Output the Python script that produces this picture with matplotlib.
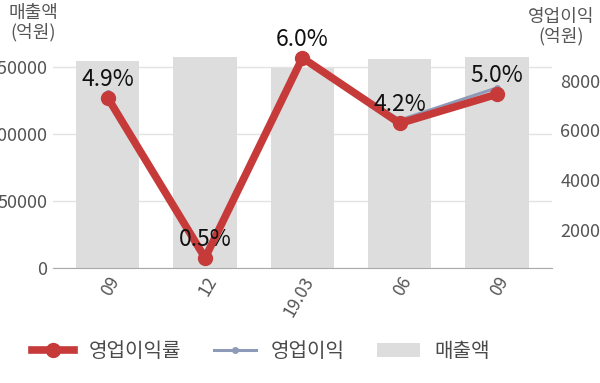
import numpy as np
import matplotlib
matplotlib.use("Agg")
import matplotlib.pyplot as plt

plt.rcParams['font.family'] = ['Noto Sans CJK KR', 'DejaVu Sans']

# data
periods = ['09', '12', '19.03', '06', '09']
sales = [154270, 157720, 149150, 156290, 157300]      # 매출액 (억원)
op_profit = [7490, 760, 8950, 6420, 7720]            # 영업이익 (억원)
op_margin = [4.9, 0.5, 6.0, 4.2, 5.0]                # 영업이익률 (%)

red = '#c63a3a'
blue = '#8e9bb8'
grey_bar = '#dddddd'
txt = '#555555'

fig = plt.figure(figsize=(6, 3.83), dpi=100)
ax = fig.add_axes([0.088, 0.300, 0.832, 0.585])
x = np.arange(len(periods))

bars = ax.bar(x, sales, width=0.65, color=grey_bar, label='매출액', zorder=1)
ax.set_xlim(-0.565, len(periods) - 1 + 0.565)
ax.set_ylim(0, 167250)
ax.set_yticks([0, 50000, 100000, 150000])
ax.yaxis.grid(True, color='#e3e3e3', lw=1)
ax.set_axisbelow(True)
for s in ['top', 'right', 'left']:
    ax.spines[s].set_visible(False)
ax.spines['bottom'].set_color('#aaaaaa')
ax.tick_params(axis='both', length=0, colors=txt, labelsize=13, pad=4)
ax.set_xticks(x)
ax.set_xticklabels(periods, rotation=60, ha='right', rotation_mode='anchor', fontsize=12.5)

# 영업이익 (right axis)
ax2 = ax.twinx()
ax2.set_ylim(446, 9485)
l2, = ax2.plot(x, op_profit, color=blue, lw=2.2, marker='o', ms=4, label='영업이익', zorder=3)
ax2.set_yticks([2000, 4000, 6000, 8000])
for s in ax2.spines.values():
    s.set_visible(False)
ax2.tick_params(axis='y', length=0, colors=txt, labelsize=13, pad=6)

# 영업이익률 (hidden axis)
ax3 = ax.twinx()
ax3.set_ylim(0.22, 6.38)
ax3.axis('off')
l1, = ax3.plot(x, op_margin, color=red, lw=5.5, marker='o', ms=10, label='영업이익률', zorder=4)
for xi, v in zip(x, op_margin):
    ax3.text(xi, v + 0.2, f'{v:.1f}%', ha='center', va='bottom', fontsize=16.5,
             color='#111111', zorder=6)

fig.text(0.055, 0.99, '매출액\n(억원)', ha='center', va='top', fontsize=13, color=txt, linespacing=1.05)
fig.text(0.935, 0.978, '영업이익\n(억원)', ha='center', va='top', fontsize=13, color=txt, linespacing=1.05)

fig.legend([l1, l2, bars], ['영업이익률', '영업이익', '매출액'], loc='center', ncol=3,
           bbox_to_anchor=(0.435, 0.081), frameon=False, fontsize=14.5,
           handlelength=2.1, columnspacing=1.6, handletextpad=0.75, labelcolor='#4a4a4a')

fig.savefig('out.png', dpi=100)
